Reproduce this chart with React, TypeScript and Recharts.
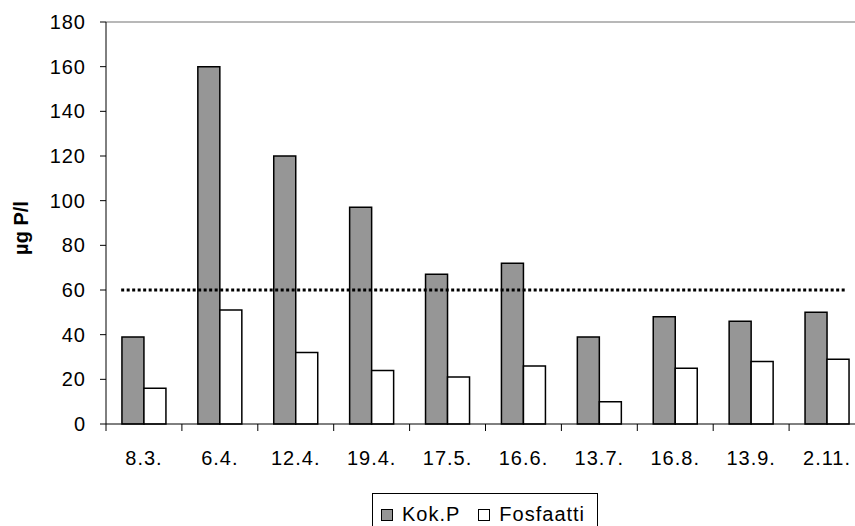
import React from "react";
import { BarChart, Bar, XAxis, YAxis, Legend, ReferenceLine } from "recharts";

const dates = ["8.3.", "6.4.", "12.4.", "19.4.", "17.5.", "16.6.", "13.7.", "16.8.", "13.9.", "2.11."];
const kokP = [39, 160, 120, 97, 67, 72, 39, 48, 46, 50];
const fosfaatti = [16, 51, 32, 24, 21, 26, 10, 25, 28, 29];
const yTicks = [0, 20, 40, 60, 80, 100, 120, 140, 160, 180];
const limit = 60;

const data = dates.map((date, i) => ({
  date,
  kokP: kokP[i],
  fosfaatti: fosfaatti[i],
}));

const W = 875;
const H = 526;
const margin = { top: 22, right: 10, bottom: 62, left: 0 };
const yAxisW = 106;
const band = (W - margin.left - margin.right - yAxisW) / dates.length;
const font = "'Liberation Sans', Arial, sans-serif";

// category ticks sit on the band edges, labels in the middle
const DateTick = (props: any) => {
  const { x, y, payload } = props;
  const edge = x - band / 2;
  return (
    <g>
      <line x1={edge} x2={edge} y1={y - 27} y2={y - 20} stroke="#000" />
      <text x={x} y={y} dy="0.71em" textAnchor="middle" fontSize={20} fill="#000">
        {payload.value}
      </text>
    </g>
  );
};

const DottedLimit = (props: any) => {
  const { x1, x2, y1 } = props;
  return (
    <line
      x1={x1 + band * 0.2}
      x2={x2 - band * 0.25}
      y1={y1}
      y2={y1}
      stroke="#000"
      strokeWidth={3}
      strokeDasharray="3 2.5"
    />
  );
};

const Swatch = ({ fill }: { fill: string }) => (
  <span
    style={{
      display: "inline-block",
      width: 12,
      height: 12,
      boxSizing: "border-box",
      border: "1px solid #000",
      background: fill,
      marginRight: 9,
    }}
  />
);

const LegendBox = () => (
  <div
    style={{
      width: 226,
      height: 40,
      boxSizing: "border-box",
      border: "1px solid #000",
      padding: "9px 0 0 8px",
      fontSize: 20,
      lineHeight: "normal",
      whiteSpace: "nowrap",
      background: "#fff",
    }}
  >
    <Swatch fill="#969696" />
    <span>Kok.P</span>
    <span style={{ marginLeft: 18 }} />
    <Swatch fill="#fff" />
    <span>Fosfaatti</span>
  </div>
);

export default function App() {
  return (
    <div
      style={{
        position: "absolute",
        left: 0,
        top: 0,
        width: 855,
        height: 526,
        overflow: "hidden",
        background: "#fff",
        fontFamily: font,
        letterSpacing: "1px",
      }}
    >
      <BarChart
        width={W}
        height={H}
        data={data}
        margin={margin}
        barCategoryGap="21%"
        barGap={0}
      >
        <ReferenceLine y={180} stroke="#a0a0a0" strokeWidth={1.5} />
        <XAxis
          dataKey="date"
          height={40}
          axisLine={{ stroke: "#000" }}
          tickLine={false}
          tickSize={0}
          tickMargin={27}
          interval={0}
          tick={<DateTick />}
        />
        <YAxis
          width={yAxisW}
          domain={[0, 180]}
          ticks={yTicks}
          interval={0}
          axisLine={{ stroke: "#000" }}
          tickLine={{ stroke: "#000" }}
          tickSize={6}
          tickMargin={14}
          tick={{ fontSize: 20, fill: "#000" }}
          label={{
            content: (p: any) => {
              const vb = p.viewBox;
              const cx = vb.x + 28;
              const cy = vb.y + vb.height / 2 + 5;
              return (
                <text
                  x={cx}
                  y={cy}
                  transform={`rotate(-90 ${cx} ${cy})`}
                  textAnchor="middle"
                  fontSize={20}
                  fontWeight="bold"
                  fill="#000"
                  style={{ letterSpacing: 0 }}
                >
                  µg P/l
                </text>
              );
            },
          }}
        />
        <Bar dataKey="kokP" name="Kok.P" fill="#969696" stroke="#000" strokeWidth={1.5} isAnimationActive={false} />
        <Bar dataKey="fosfaatti" name="Fosfaatti" fill="#fff" stroke="#000" strokeWidth={1.5} isAnimationActive={false} />
        <ReferenceLine y={limit} shape={<DottedLimit />} />
        <Legend
          layout="horizontal"
          verticalAlign="middle"
          align="center"
          content={<LegendBox />}
          wrapperStyle={{ left: 372, top: 493, width: 226, height: 40 }}
        />
      </BarChart>
    </div>
  );
}
